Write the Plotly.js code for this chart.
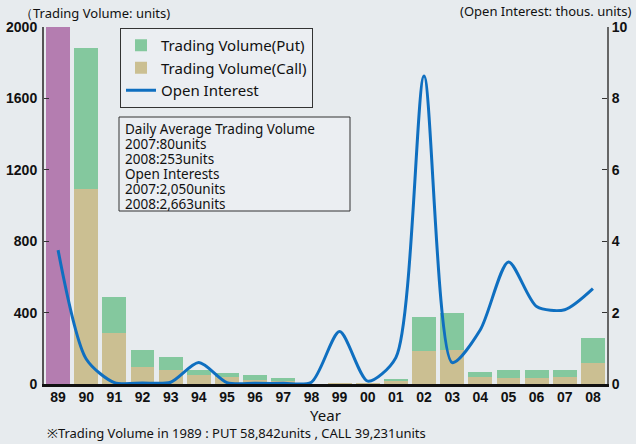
<!DOCTYPE html>
<html><head><meta charset="utf-8">
<script src="https://cdn.plot.ly/plotly-3.0.1.min.js"></script>
<style>html,body{margin:0;padding:0;background:#e7ebee;}#chart{width:636px;height:444px;}</style>
</head><body><div id="chart"></div>
<script>
const years = ['89','90','91','92','93','94','95','96','97','98','99','00','01','02','03','04','05','06','07','08'];
const callVolume = [39231,1090,287,97,78,48,40,24,18,1,3,3,15,184,193,42,36,36,40,120];
const putVolume  = [58842,792,202,93,75,32,22,28,17,1,4,4,15,194,207,28,45,40,41,135];
const openInterest = [3.75,0.7,0.04,0.03,0.05,0.6,0.04,0.02,0.02,0.05,1.47,0.08,0.74,8.63,0.6,1.52,3.42,2.17,2.08,2.67];
const infoLines = ['Daily Average Trading Volume','2007:80units','2008:253units','Open Interests','2007:2,050units','2008:2,663units'];

const font = 'Noto Sans, sans-serif';
const tickFont = {family:'Liberation Sans Narrow, Liberation Sans, Arial Narrow, sans-serif', size:14, color:'#111', weight:'bold'};

// plot area geometry (pixels) used to place paper-referenced overlays
const L = 44, T = 27, PW = 563, PH = 357;
const px = x => (x - L) / PW;
const py = y => (T + PH - y) / PH;

const traces = [
 {type:'bar', name:'Trading Volume(Call)', x:years.slice(1), y:callVolume.slice(1), legendrank:2,
  marker:{color:'#cbbf92', line:{width:0}}, yaxis:'y', hoverinfo:'skip'},
 {type:'bar', name:'Trading Volume(Put)', x:years.slice(1), y:putVolume.slice(1), legendrank:1,
  marker:{color:'#84c89e', line:{width:0}}, yaxis:'y', hoverinfo:'skip'},
 {type:'bar', name:'1989 Call', x:[years[0]], y:[callVolume[0]], showlegend:false,
  marker:{color:'#b47db0', line:{width:0}}, yaxis:'y', hoverinfo:'skip'},
 {type:'bar', name:'1989 Put', x:[years[0]], y:[putVolume[0]], showlegend:false,
  marker:{color:'#b47db0', line:{width:0}}, yaxis:'y', hoverinfo:'skip'},
 {type:'scatter', mode:'lines', name:'Open Interest', x:years, y:openInterest, legendrank:3,
  line:{color:'#0f6fc0', width:3, shape:'spline', smoothing:0.75}, yaxis:'y2', hoverinfo:'skip'}
];

const annotations = [
  {xref:'paper', yref:'paper', x:px(18), y:py(13), xanchor:'left', yanchor:'middle', showarrow:false,
   text:'（Trading Volume: units)', font:{family:font, size:13, color:'#111'}},
  {xref:'paper', yref:'paper', x:px(634), y:py(11), xanchor:'right', yanchor:'middle', showarrow:false,
   text:'(Open Interest: thous. units)', font:{family:font, size:13, color:'#111'}},
  {xref:'paper', yref:'paper', x:px(45), y:py(433), yanchor:'middle', xanchor:'left', showarrow:false,
   text:'※Trading Volume in 1989 : PUT 58,842units , CALL 39,231units',
   font:{family:font, size:13, color:'#111'}}
];
infoLines.forEach((t,i)=>{
  annotations.push({xref:'paper', yref:'paper', x:px(124), y:py(129 + 15*i), xanchor:'left', yanchor:'middle',
    showarrow:false, borderpad:0, text:t, font:{family:font, size:13.5, color:'#111'}});
});

const layout = {
 width:636, height:444,
 margin:{l:L, r:636-L-PW, t:T, b:444-T-PH},
 paper_bgcolor:'#e7ebee', plot_bgcolor:'rgba(0,0,0,0)',
 barmode:'stack', bargap:0.15,
 font:{family:font, color:'#111'},
 showlegend:true,
 legend:{x:px(120), y:py(28), xanchor:'left', yanchor:'top', traceorder:'normal',
   bgcolor:'rgba(236,240,243,0.7)', bordercolor:'#333', borderwidth:1,
   font:{family:font, size:15, color:'#111'}},
 shapes:[
  {type:'rect', xref:'paper', yref:'paper', x0:px(119), x1:px(350), y0:py(211), y1:py(117),
   fillcolor:'rgba(236,240,243,0.7)', line:{color:'#333', width:1}, layer:'below'}
 ],
 xaxis:{type:'category', categoryorder:'array', categoryarray:years, tickfont:tickFont,
   showline:true, linecolor:'#111', linewidth:3,
   ticks:'', showgrid:false, zeroline:false, fixedrange:true, ticklabelstandoff:-2,
   title:{text:'Year', font:{family:font, size:15, color:'#111'}, standoff:2}},
 yaxis:{range:[0,2000], tickvals:[0,400,800,1200,1600,2000], tickfont:tickFont,
   showline:true, linecolor:'#555', linewidth:2, ticks:'inside', ticklen:5, tickcolor:'#333',
   showgrid:false, zeroline:false, ticklabelstandoff:2},
 yaxis2:{overlaying:'y', side:'right', range:[0,10], tickvals:[0,2,4,6,8,10], tickfont:tickFont,
   showline:true, linecolor:'#666', linewidth:2, ticks:'inside', ticklen:5, tickcolor:'#333',
   showgrid:false, zeroline:false},
 annotations:annotations
};
Plotly.newPlot('chart', traces, layout, {displayModeBar:false, staticPlot:true});
</script></body></html>
